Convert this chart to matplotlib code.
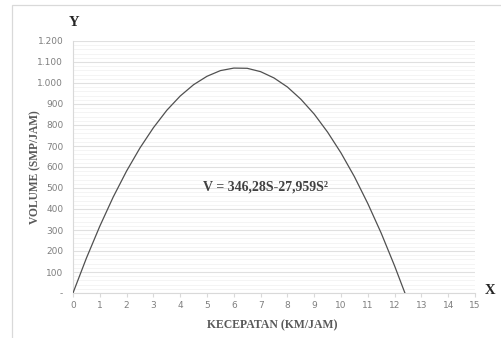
import matplotlib.pyplot as plt
import matplotlib.patches as patches
from matplotlib.ticker import MultipleLocator, FuncFormatter

# speed (km/jam) and volume (smp/jam)
speed = [0, 0.5, 1, 1.5, 2, 2.5, 3, 3.5, 4, 4.5, 5, 5.5, 6, 6.5,
         7, 7.5, 8, 8.5, 9, 9.5, 10, 10.5, 11, 11.5, 12, 12.385]
volume = [0, 166, 318, 457, 581, 691, 787, 870, 938, 992, 1032, 1059, 1071, 1070,
          1054, 1024, 981, 923, 852, 766, 667, 554, 426, 285, 129, 0]

x_ticks = list(range(0, 16))
equation = "V = 346,28S-27,959S²"

W, H = 501, 338
fig = plt.figure(figsize=(W / 100, H / 100), dpi=100)
fig.patch.set_facecolor('white')

# outer chart frame (only left and top visible)
fig.add_artist(patches.Rectangle((12 / W, -0.1), 1.2, 1 - 5 / H + 0.1,
                                 transform=fig.transFigure, fill=False,
                                 edgecolor='#d9d9d9', linewidth=0.9))

ax = fig.add_axes([73 / W, 1 - 293 / H, (475 - 73) / W, (293 - 41) / H])
ax.plot(speed, volume, color='#505050', linewidth=0.9, zorder=3)

ax.set_xlim(0, 15)
ax.set_ylim(0, 1200)
ax.set_xticks(x_ticks)
ax.yaxis.set_major_locator(MultipleLocator(100))
ax.yaxis.set_minor_locator(MultipleLocator(20))

def fmt_y(v, pos):
    if v == 0:
        return '-'
    return f"{int(v):,}".replace(',', '.')

ax.yaxis.set_major_formatter(FuncFormatter(fmt_y))

ax.grid(which='major', axis='y', color='#e0e0e0', linewidth=0.8)
ax.grid(which='minor', axis='y', color='#f3f3f3', linewidth=0.6)
ax.set_axisbelow(True)

for s in ['top', 'right']:
    ax.spines[s].set_visible(False)
ax.spines['left'].set_color('#d9d9d9')
ax.spines['bottom'].set_color('#d9d9d9')

ax.tick_params(axis='x', length=3, color='#d9d9d9', labelsize=6.5,
               labelcolor='#7f7f7f', pad=3)
ax.tick_params(axis='y', which='both', length=0, labelsize=6.5,
               labelcolor='#7f7f7f', pad=7)

serif = 'Liberation Serif'
ax.text(7.2, 505, equation, ha='center', va='center', fontsize=10,
        fontweight='bold', family=serif, color='#404040')

fig.text(272 / W, 1 - 325 / H, 'KECEPATAN (KM/JAM)', ha='center', va='center',
         fontsize=8.5, fontweight='bold', family=serif, color='#595959')
fig.text(35 / W, 1 - 167 / H, 'VOLUME (SMP/JAM)', ha='center', va='center',
         rotation=90, fontsize=8.3, fontweight='bold', family=serif, color='#595959')
fig.text(74 / W, 1 - 22 / H, 'Y', ha='center', va='center', fontsize=10.5,
         fontweight='bold', family=serif, color='#262626')
fig.text(490 / W, 1 - 290 / H, 'X', ha='center', va='center', fontsize=10.5,
         fontweight='bold', family=serif, color='#262626')

fig.savefig('out.png', dpi=100)
